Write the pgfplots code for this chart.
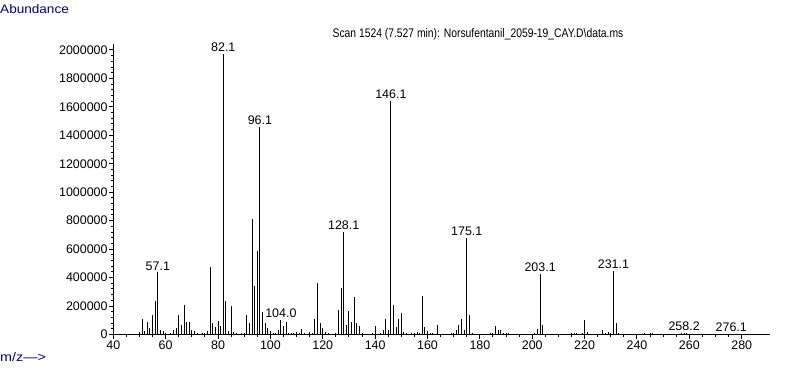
\documentclass[border=0pt]{standalone}
\usepackage{fontspec}
\setmainfont{Liberation Sans}
\usepackage{pgfplots}
\pgfplotsset{compat=1.18}
\usepackage{pgfplotstable}
\definecolor{navy}{RGB}{0,0,128}
\newcommand{\chf}{\fontsize{12.5}{15}\selectfont}

\pgfplotstableread{
mz ab
50 19000
51 112000
52 28000
53 85000
54 49000
55 140000
56 232000
57 437000
58 33000
59 28000
60 8000
61 6000
62 10000
63 30000
64 44000
65 140000
66 70000
67 210000
68 85000
69 85000
70 35000
71 28000
72 8000
73 6000
74 10000
75 8000
76 28000
77 475000
78 78000
79 51000
80 98000
81 63000
82 1972000
83 232000
84 28000
85 197000
86 18000
87 10000
88 6000
89 14000
90 12000
91 140000
92 78000
93 812000
94 344000
95 587000
96 1459000
97 157000
98 78000
99 49000
100 28000
101 8000
102 8000
103 35000
104 100000
105 63000
106 85000
107 14000
108 8000
109 8000
110 21000
111 8000
112 42000
113 8000
114 6000
115 21000
116 8000
117 112000
118 365000
119 78000
120 49000
121 21000
122 8000
123 6000
124 6000
125 8000
126 171000
127 330000
128 720000
129 70000
130 168000
131 85000
132 267000
133 78000
134 63000
135 8000
136 6000
137 6000
138 6000
139 8000
140 63000
141 6000
142 8000
143 35000
144 112000
145 35000
146 1640000
147 204000
148 56000
149 112000
150 154000
151 21000
152 8000
153 6000
154 8000
155 10000
156 21000
157 14000
158 274000
159 56000
160 28000
161 8000
162 8000
163 6000
164 70000
165 6000
166 4000
167 4000
168 6000
169 8000
170 14000
171 30000
172 70000
173 112000
174 30000
175 678000
176 134000
177 10000
178 6000
184 8000
185 14000
186 63000
187 30000
188 30000
189 8000
190 10000
191 14000
192 6000
193 6000
197 4000
200 6000
201 10000
202 42000
203 425000
204 70000
205 6000
208 4000
212 6000
214 6000
215 8000
216 10000
217 8000
218 6000
219 8000
220 100000
221 20000
222 4000
226 6000
227 30000
228 10000
229 20000
230 10000
231 446000
232 78000
233 8000
243 8000
244 6000
245 8000
246 8000
247 6000
256 6000
257 8000
258 12000
259 8000
275 4000
276 6000
}\spectrum

\pgfplotstableread{
mz ab lab
57 437000 57.1
82 1972000 82.1
96 1459000 96.1
104 100000 104.0
128 720000 128.1
146 1640000 146.1
175 678000 175.1
203 425000 203.1
231 446000 231.1
258 12000 258.2
276 6000 276.1
}\peaks

\begin{document}
\begin{tikzpicture}[x=1bp,y=1bp]
\path[use as bounding box] (0,0) rectangle (787,367);
\node[anchor=west, inner sep=0, text=navy, font=\chf] at (0,358) {\scalebox{1.09}[1]{Abundance}};
\node[anchor=west, inner sep=0, text=navy, font=\chf] at (0,10) {\scalebox{1.15}[1]{m/z--->}};
\node[anchor=center, inner sep=0, font=\chf] at (478,333) {\scalebox{0.83}[1]{Scan 1524 (7.527 min): Norsufentanil\_2059-19\_CAY.D\textbackslash data.ms}};
\begin{axis}[
  at={(113.3bp,32.5bp)}, anchor=south west,
  scale only axis, width=656.7bp, height=290.5bp,
  xmin=40, xmax=290.8, ymin=0, ymax=2042000,
  axis lines*=left, axis line style={-, line width=1bp, black},
  tick align=outside,
  major tick length=4bp, minor tick length=2.5bp,
  every tick/.style={black, line width=1bp},
  xtick={40,60,...,280}, minor x tick num=3,
  ytick={0,200000,...,2000000}, minor y tick num=4,
  scaled y ticks=false,
  yticklabel style={inner sep=1.5bp, /pgf/number format/fixed, /pgf/number format/precision=0, /pgf/number format/1000 sep={}, /pgf/number format/assume math mode=true},
  xticklabel style={inner sep=2bp, /pgf/number format/assume math mode=true},
  tick label style={font=\chf},
  clip=false,
]
\addplot[ycomb, black, line width=1bp, mark=none] table[x=mz, y=ab] {\spectrum};
\addplot[draw=none, mark=none, nodes near coords, point meta=explicit symbolic,
  every node near coord/.append style={font=\chf, inner sep=2bp, anchor=south, text=black}]
  table[x=mz, y=ab, meta=lab] {\peaks};
\end{axis}
\end{tikzpicture}
\end{document}
